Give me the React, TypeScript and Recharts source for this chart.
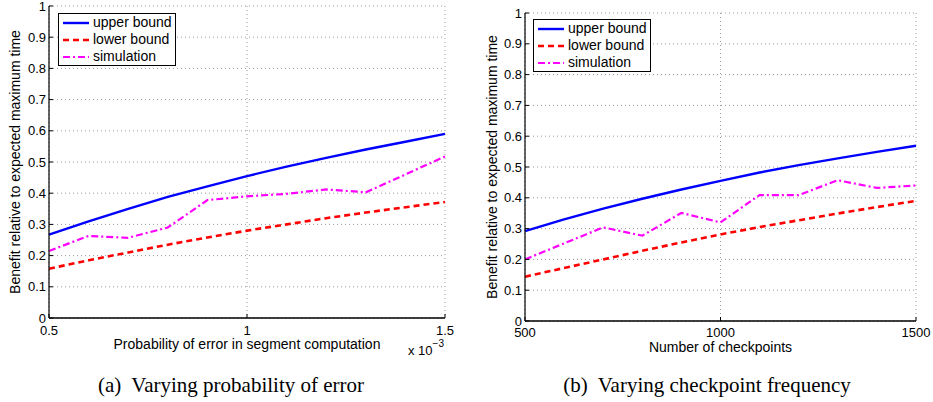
import React from "react";
import { LineChart, Line, XAxis, YAxis, CartesianGrid, Legend } from "recharts";

// (a) varying probability of error (x 10^-3)
const errorProb = [0.5, 0.6, 0.7, 0.8, 0.9, 1.0, 1.1, 1.2, 1.3, 1.4, 1.5];
const errorUpper = [0.267, 0.31, 0.35, 0.388, 0.422, 0.455, 0.485, 0.513, 0.54, 0.565, 0.59];
const errorLower = [0.158, 0.185, 0.21, 0.235, 0.258, 0.28, 0.3, 0.32, 0.338, 0.355, 0.372];
const errorSim = [0.215, 0.263, 0.257, 0.29, 0.378, 0.39, 0.398, 0.412, 0.403, 0.46, 0.518];

// (b) varying checkpoint frequency
const checkpoints = [500, 600, 700, 800, 900, 1000, 1100, 1200, 1300, 1400, 1500];
const cpUpper = [0.292, 0.33, 0.365, 0.397, 0.427, 0.455, 0.482, 0.506, 0.528, 0.549, 0.569];
const cpLower = [0.144, 0.172, 0.2, 0.228, 0.255, 0.281, 0.305, 0.327, 0.349, 0.37, 0.39];
const cpSim = [0.2, 0.252, 0.304, 0.277, 0.351, 0.32, 0.409, 0.409, 0.457, 0.432, 0.44];

const yTicks = [0, 0.1, 0.2, 0.3, 0.4, 0.5, 0.6, 0.7, 0.8, 0.9, 1];
const errorTicks = [0.5, 1, 1.5];
const cpTicks = [500, 1000, 1500];

const yLabel = "Benefit relative to expected maximum time";
const seriesNames = ["upper bound", "lower bound", "simulation"];

const lineStyles = [
  { key: "upper", name: seriesNames[0], color: "#0000ff", dash: undefined, width: 2.4 },
  { key: "lower", name: seriesNames[1], color: "#ff0000", dash: "6 4", width: 2.6 },
  { key: "sim", name: seriesNames[2], color: "#ff00ff", dash: "7 3 2 3", width: 2.2 },
];

const FONT = '"Liberation Sans", Arial, Helvetica, sans-serif';

function LegendBox() {
  return (
    <div
      style={{
        border: "1.5px solid #000",
        background: "#fff",
        padding: "0 3px 0 4px",
        fontSize: 14,
        lineHeight: "17px",
        fontFamily: FONT,
        color: "#000",
      }}
    >
      {lineStyles.map((s) => (
        <div key={s.key} style={{ display: "flex", alignItems: "center", whiteSpace: "nowrap" }}>
          <svg width={26} height={10} style={{ marginRight: 4 }}>
            <line x1={0} y1={5} x2={26} y2={5} stroke={s.color} strokeWidth={s.width} strokeDasharray={s.dash} />
          </svg>
          <span>{s.name}</span>
        </div>
      ))}
    </div>
  );
}

type PanelProps = {
  xs: number[];
  upper: number[];
  lower: number[];
  sim: number[];
  xTicks: number[];
  xLabel: string;
  exponent?: boolean;
  left: number;
  width: number;
  margin: { top: number; right: number; bottom: number; left: number };
  yAxisWidth: number;
  xAxisHeight: number;
  yLabelX: number;
  xTickGap: number;
  legendPos: { left: number; top: number };
};

function Panel(p: PanelProps) {
  const data = p.xs.map((x, i) => ({ x, upper: p.upper[i], lower: p.lower[i], sim: p.sim[i] }));
  const domain = [p.xTicks[0], p.xTicks[p.xTicks.length - 1]];

  const yLabelContent = (props: any) => {
    const vb = props.viewBox || {};
    const cy = vb.y + vb.height / 2;
    return (
      <text
        x={p.yLabelX}
        y={cy}
        transform={`rotate(-90, ${p.yLabelX}, ${cy})`}
        textAnchor="middle"
        dominantBaseline="central"
        fontSize={14}
        fill="#000"
      >
        {yLabel}
      </text>
    );
  };

  const xLabelContent = (props: any) => {
    const vb = props.viewBox || {};
    const cx = vb.x + vb.width / 2;
    return (
      <g>
        <text x={cx} y={vb.y + 26} textAnchor="middle" dominantBaseline="central" fontSize={14} fill="#000">
          {p.xLabel}
        </text>
        {p.exponent && (
          <text x={vb.x + vb.width - 37} y={vb.y + 32} dominantBaseline="central" fontSize={13} fill="#000">
            x 10
            <tspan dy={-7} fontSize={10}>
              −3
            </tspan>
          </text>
        )}
      </g>
    );
  };

  return (
    <div style={{ position: "absolute", left: p.left, top: 0, fontFamily: FONT }}>
      <LineChart width={p.width} height={360} data={data} margin={p.margin}>
        <CartesianGrid stroke="#999" strokeDasharray="1 3" />
        <XAxis
          dataKey="x"
          type="number"
          domain={domain}
          ticks={p.xTicks}
          interval={0}
          height={p.xAxisHeight}
          axisLine={{ stroke: "#000", strokeWidth: 1.6 }}
          tickLine={{ stroke: "#000" }}
          tickSize={-4}
          tickMargin={p.xTickGap}
          tick={{ fill: "#000", fontSize: 13 }}
          label={{ content: xLabelContent }}
        />
        <XAxis
          xAxisId="top"
          orientation="top"
          dataKey="x"
          type="number"
          domain={domain}
          ticks={p.xTicks}
          interval={0}
          height={0}
          axisLine={{ stroke: "#000", strokeWidth: 1.2 }}
          tickLine={{ stroke: "#000" }}
          tickSize={-4}
          tick={false}
        />
        <YAxis
          type="number"
          domain={[0, 1]}
          ticks={yTicks}
          interval={0}
          width={p.yAxisWidth}
          axisLine={{ stroke: "#000", strokeWidth: 1.2 }}
          tickLine={{ stroke: "#000" }}
          tickSize={-4}
          tickMargin={7}
          tick={{ fill: "#000", fontSize: 13 }}
          label={{ content: yLabelContent }}
        />
        <YAxis
          yAxisId="right"
          orientation="right"
          type="number"
          domain={[0, 1]}
          ticks={yTicks}
          interval={0}
          width={0}
          axisLine={{ stroke: "#000", strokeWidth: 1.2 }}
          tickLine={{ stroke: "#000" }}
          tickSize={-4}
          tick={false}
        />
        <Legend
          layout="vertical"
          align="center"
          verticalAlign="middle"
          wrapperStyle={{ left: p.legendPos.left, top: p.legendPos.top, width: "auto" }}
          content={() => <LegendBox />}
        />
        {lineStyles.map((s) => (
          <Line
            key={s.key}
            dataKey={s.key}
            name={s.name}
            type="linear"
            stroke={s.color}
            strokeWidth={s.width}
            strokeDasharray={s.dash}
            dot={false}
            activeDot={false}
            isAnimationActive={false}
          />
        ))}
      </LineChart>
    </div>
  );
}

const captionStyle: React.CSSProperties = {
  position: "absolute",
  top: 372,
  width: 500,
  textAlign: "center",
  fontFamily: '"Liberation Serif", "Times New Roman", serif',
  fontSize: 21,
  lineHeight: "26px",
  whiteSpace: "pre",
  color: "#000",
};

export default function App() {
  return (
    <div style={{ position: "absolute", left: 0, top: 0, width: 933, height: 402, background: "#fff", overflow: "hidden" }}>
      <Panel
        xs={errorProb}
        upper={errorUpper}
        lower={errorLower}
        sim={errorSim}
        xTicks={errorTicks}
        xLabel="Probability of error in segment computation"
        exponent
        left={0}
        width={470}
        margin={{ top: 6, right: 25, bottom: 0, left: 0 }}
        yAxisWidth={49}
        xAxisHeight={42}
        yLabelX={15}
        xTickGap={11.5}
        legendPos={{ left: 58, top: 13 }}
      />
      <Panel
        xs={checkpoints}
        upper={cpUpper}
        lower={cpLower}
        sim={cpSim}
        xTicks={cpTicks}
        xLabel="Number of checkpoints"
        left={470}
        width={463}
        margin={{ top: 13, right: 17, bottom: 0, left: 0 }}
        yAxisWidth={55}
        xAxisHeight={39}
        yLabelX={22}
        xTickGap={10.5}
        legendPos={{ left: 63, top: 19 }}
      />
      <div style={{ ...captionStyle, left: 231 - 250 }}>(a)  Varying probability of error</div>
      <div style={{ ...captionStyle, left: 707 - 250 }}>(b)  Varying checkpoint frequency</div>
    </div>
  );
}
